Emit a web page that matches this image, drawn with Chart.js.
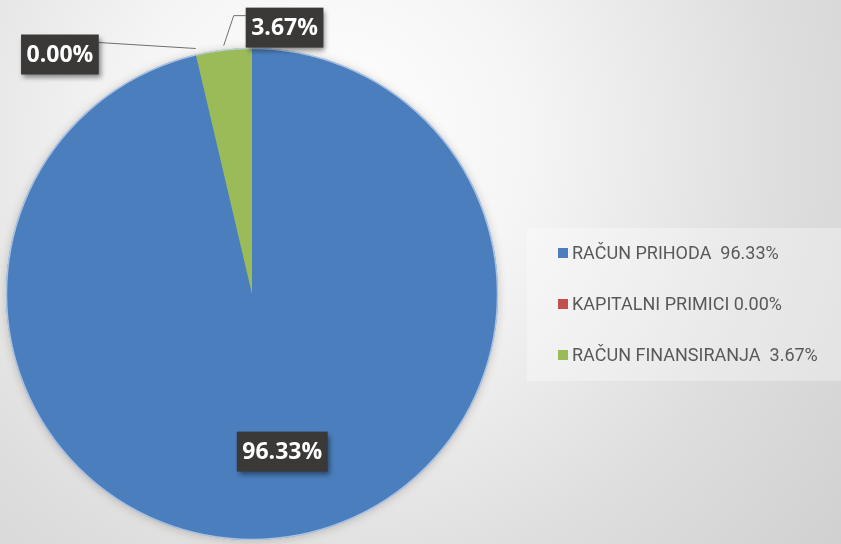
<!DOCTYPE html>
<html>
<head>
<meta charset="utf-8">
<script src="https://cdn.jsdelivr.net/npm/chart.js@4.4.1/dist/chart.umd.min.js"></script>
<style>
  html, body { margin: 0; padding: 0; }
  body {
    width: 841px; height: 544px; overflow: hidden;
    background: radial-gradient(circle at 330px 140px, #ffffff 0px, #f5f5f5 200px, #dedede 450px, #cdcdcd 700px);
  }
  #c { display: block; }
</style>
</head>
<body>
<canvas id="c" width="841" height="544" style="width:841px;height:544px"></canvas>
<script>
const categories = ['RAČUN PRIHODA', 'KAPITALNI PRIMICI', 'RAČUN FINANSIRANJA'];
const values = [96.33, 0.00, 3.67];
const legendSeparators = ['  ', ' ', '  '];
const colors = ['#4a7ebd', '#c0504d', '#9bbb59'];

function pct(v) { return v.toFixed(2) + '%'; }

const labelFont = 'bold 23px "Open Sans", "DejaVu Sans", sans-serif';
const legendFont = '18px Roboto, "Noto Sans", sans-serif';

function drawBox(ctx, text, cx, cy) {
  ctx.save();
  ctx.font = labelFont;
  const w = ctx.measureText(text).width + 11;
  const h = 40;
  const x = cx - w / 2, y = cy - h / 2;
  ctx.shadowColor = 'rgba(0,0,0,0.45)';
  ctx.shadowBlur = 5;
  ctx.shadowOffsetX = 2;
  ctx.shadowOffsetY = 3;
  ctx.fillStyle = '#3a3937';
  ctx.fillRect(x, y, w, h);
  ctx.shadowColor = 'transparent';
  ctx.fillStyle = '#ffffff';
  ctx.textAlign = 'center';
  ctx.textBaseline = 'middle';
  ctx.fillText(text, cx, cy + 1);
  ctx.restore();
  return { x, y, w, h };
}

const rimPlugin = {
  id: 'rimPlugin',
  beforeDatasetsDraw(chart) {
    const arc = chart.getDatasetMeta(0).data[0];
    if (!arc) return;
    const p = arc.getProps(['x', 'y', 'outerRadius'], true);
    const ctx = chart.ctx;
    ctx.save();
    ctx.shadowColor = 'rgba(120,100,80,0.35)';
    ctx.shadowBlur = 8;
    ctx.shadowOffsetY = 1;
    ctx.fillStyle = colors[0];
    ctx.beginPath();
    ctx.arc(p.x, p.y, p.outerRadius, 0, Math.PI * 2);
    ctx.fill();
    ctx.restore();
  },
  afterDatasetsDraw(chart) {
    const arc = chart.getDatasetMeta(0).data[0];
    if (!arc) return;
    const p = arc.getProps(['x', 'y', 'outerRadius'], true);
    const ctx = chart.ctx;
    ctx.save();
    ctx.strokeStyle = 'rgba(200,218,242,0.75)';
    ctx.lineWidth = 1.5;
    ctx.beginPath();
    ctx.arc(p.x, p.y, p.outerRadius - 0.5, 0, Math.PI * 2);
    ctx.stroke();
    ctx.restore();
  }
};

const labelPlugin = {
  id: 'labelPlugin',
  afterDatasetsDraw(chart) {
    const ctx = chart.ctx;
    const meta = chart.getDatasetMeta(0);
    const ds = chart.data.datasets[0].data;
    meta.data.forEach((arc, i) => {
      const p = arc.getProps(['x', 'y', 'startAngle', 'endAngle', 'outerRadius'], true);
      const mid = (p.startAngle + p.endAngle) / 2;
      const text = pct(ds[i]);
      ctx.save();
      ctx.font = labelFont;
      const w = ctx.measureText(text).width + 11;
      ctx.restore();
      if (i === 0) {
        const r = p.outerRadius * 0.645;
        drawBox(ctx, text, p.x + Math.cos(mid) * r + 12, p.y + Math.sin(mid) * r);
      } else if (i === 1) {
        const ex = p.x + Math.cos(mid) * p.outerRadius;
        const ey = p.y + Math.sin(mid) * p.outerRadius;
        const boxRight = ex - 97;
        ctx.save();
        ctx.strokeStyle = '#6f6f6f';
        ctx.lineWidth = 1;
        ctx.beginPath();
        ctx.moveTo(ex, ey - 6);
        ctx.lineTo(boxRight, ey - 12);
        ctx.stroke();
        ctx.restore();
        drawBox(ctx, text, boxRight - w / 2, ey);
      } else {
        const ex = p.x + Math.cos(mid) * p.outerRadius;
        const ey = p.y + Math.sin(mid) * p.outerRadius;
        const elbowX = ex + 10, elbowY = ey - 34;
        const boxLeft = elbowX + 12;
        ctx.save();
        ctx.strokeStyle = '#6f6f6f';
        ctx.lineWidth = 1;
        ctx.beginPath();
        ctx.moveTo(ex, ey - 4);
        ctx.lineTo(elbowX, elbowY);
        ctx.lineTo(boxLeft, elbowY);
        ctx.stroke();
        ctx.restore();
        drawBox(ctx, text, boxLeft + w / 2, elbowY + 12);
      }
    });
  }
};

const legendPlugin = {
  id: 'customLegend',
  afterDraw(chart) {
    const ctx = chart.ctx;
    const ds = chart.data.datasets[0];
    ctx.save();
    ctx.fillStyle = 'rgba(255,255,255,0.32)';
    ctx.fillRect(527, 228, 314, 153);
    ctx.font = legendFont;
    ctx.textBaseline = 'middle';
    const rowY = [253, 304, 355];
    chart.data.labels.forEach((lab, i) => {
      ctx.fillStyle = ds.backgroundColor[i];
      ctx.fillRect(558, rowY[i] - 5, 10, 10);
      ctx.fillStyle = '#595959';
      ctx.fillText(lab + legendSeparators[i] + pct(ds.data[i]), 572, rowY[i] + 1);
    });
    ctx.restore();
  }
};

new Chart(document.getElementById('c'), {
  type: 'pie',
  data: {
    labels: categories,
    datasets: [{
      data: values,
      backgroundColor: colors,
      borderWidth: 0
    }]
  },
  options: {
    responsive: false,
    animation: false,
    layout: { padding: { left: 6, right: 343, top: 48, bottom: 4 } },
    plugins: {
      legend: { display: false },
      tooltip: { enabled: false }
    }
  },
  plugins: [rimPlugin, labelPlugin, legendPlugin]
});
</script>
</body>
</html>
